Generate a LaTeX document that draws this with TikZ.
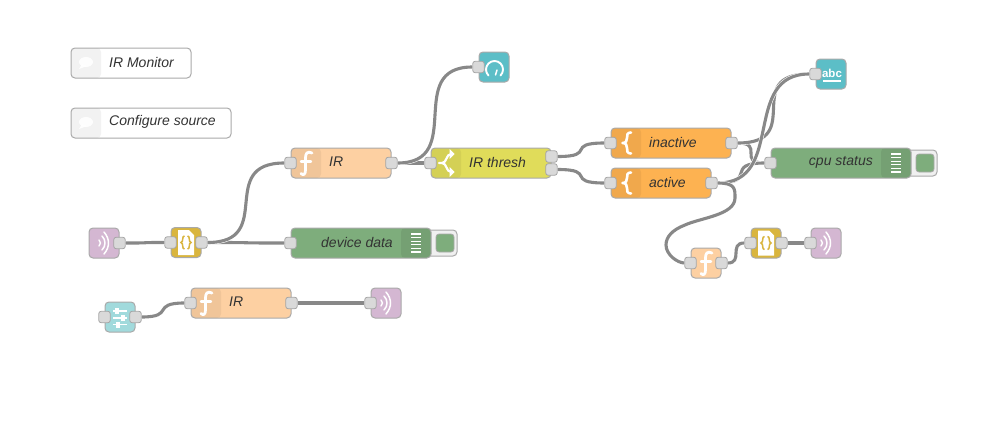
\documentclass[tikz,border=0pt]{standalone}
\usepackage{fontspec}
\setmainfont{Liberation Sans}
\definecolor{nodeline}{HTML}{A9A9A9}
\definecolor{portfill}{HTML}{D9D9D9}
\definecolor{portline}{HTML}{A5A5A5}
\definecolor{wiregray}{HTML}{888888}
\definecolor{fncol}{HTML}{FDD0A2}
\definecolor{switchcol}{HTML}{E0DC5A}
\definecolor{groupcol}{HTML}{FDB251}
\definecolor{debugcol}{HTML}{7EAD7C}
\definecolor{mqttcol}{HTML}{D4B7D2}
\definecolor{tplcol}{HTML}{D9B53E}
\definecolor{dashcol}{HTML}{5CBEC7}
\definecolor{slidecol}{HTML}{A1DADC}
\definecolor{labelcol}{HTML}{333333}
\tikzset{
  flownode/.style={draw=nodeline, rounded corners=4pt, line width=1pt, minimum height=30pt, inner sep=0pt},
  iconbar/.style={path picture={\fill[black,opacity=0.05] (path picture bounding box.north west) rectangle ([xshift=30pt]path picture bounding box.south west);}},
  debugbar/.style={path picture={\fill[black,opacity=0.07] (path picture bounding box.north east) rectangle ([xshift=-30pt]path picture bounding box.south east);}},
  port/.style={draw=portline, fill=portfill, rounded corners=2.5pt, line width=0.8pt, minimum size=11.5pt, inner sep=0pt},
  wire/.style={draw=wiregray, line width=3.1pt, preaction={draw=white, line width=4.2pt}},
  namelabel/.style={text=labelcol, font=\fontsize{14}{16}\selectfont\itshape, inner sep=0pt},
  iconline/.style={draw=white, line width=2.2pt, line cap=round, line join=round},
  lamp/.style={draw=nodeline, fill=debugcol, rounded corners=3pt, minimum size=18pt, inner sep=0pt, line width=0.8pt},
  statusbox/.style={flownode, fill=black!6, minimum width=30pt, minimum height=26pt},
  fnicon/.pic={
    \draw[iconline, line width=2.8pt] (6,-10) .. controls (1,-12.5) and (-0.5,-9) .. (-0.5,-5) -- (-0.5,7) .. controls (-0.5,12) and (-3,12.5) .. (-5,10.5);
    \draw[iconline, line width=2.4pt] (-5,-1.5) -- (5,-1.5);
  },
  braceicon/.pic={
    \draw[iconline, line width=2.6pt] (5,-10.5) .. controls (1,-10.5) and (1,-8) .. (1,-5) .. controls (1,-2) and (0,0) .. (-3.5,0) .. controls (0,0) and (1,2) .. (1,5) .. controls (1,8) and (1,10.5) .. (5,10.5);
  },
  waveicon/.pic={
    \draw[iconline, line width=1.5pt] (-5,-3) .. controls (-3,-1) and (-3,1) .. (-5,3);
    \draw[iconline, line width=1.5pt] (-2,-7) .. controls (2,-3) and (2,3) .. (-2,7);
    \draw[iconline, line width=1.5pt] (0,-11) .. controls (6,-4) and (6,4) .. (0,11);
  },
  tplicon/.pic={
    \fill[white] (-8,-12.5) -- (3,-12.5) -- (8,-7.5) -- (8,12.5) -- (-8,12.5) -- cycle;
    \draw[tplcol, line width=1.5pt] (-1.5,-6.5) .. controls (-4.5,-6.5) and (-2,-1) .. (-5,0) .. controls (-2,1) and (-4.5,6.5) .. (-1.5,6.5);
    \draw[tplcol, line width=1.5pt] (1.5,-6.5) .. controls (4.5,-6.5) and (2,-1) .. (5,0) .. controls (2,1) and (4.5,6.5) .. (1.5,6.5);
  },
  bubbleicon/.pic={
    \fill[white,opacity=0.85] (0,0) ellipse (7 and 5);
    \fill[white,opacity=0.85] (-4,2) -- (-7,7) -- (1,4) -- cycle;
  },
  listicon/.pic={
    \foreach \y in {-9,-5.4,-1.8,1.8,5.4,9} \draw[white, line width=1.2pt] (-5,\y) -- (5,\y);
  },
}
\begin{document}
\begin{tikzpicture}[x=1pt,y=-1pt]
  \useasboundingbox (0,0) rectangle (1007,447);

  % comments
  \node[flownode, fill=white, iconbar, minimum width=120pt] (monitor) at (131,63) {};
  \node[flownode, fill=white, iconbar, minimum width=160pt] (config) at (151,123) {};
  \pic at (86,62) {bubbleicon};
  \pic at (86,122) {bubbleicon};
  \node[namelabel, right] (monitortxt) at (109,62) {IR Monitor};
  \node[namelabel, right] (configtxt) at (109,122) {Configure source};

  % status boxes behind the debug nodes
  \node[statusbox] (cpubox) at (922,163) {};
  \node[lamp] (cpulamp) at (925,163) {};
  \node[statusbox] (devbox) at (442,243) {};
  \node[lamp] (devlamp) at (445,243) {};

  % main flow
  \node[flownode, fill=mqttcol, minimum width=30pt] (mqttin) at (104,243) {};
  \node[flownode, fill=tplcol, minimum width=30pt] (parse) at (186,242.5) {};
  \node[flownode, fill=fncol, iconbar, minimum width=100pt] (irfn) at (341,163) {};
  \node[flownode, fill=debugcol, debugbar, minimum width=140pt] (devdata) at (361,243) {};
  \node[flownode, fill=dashcol, minimum width=30pt] (gauge) at (494,67) {};
  \node[flownode, fill=switchcol, iconbar, minimum width=120pt] (thresh) at (491,163) {};
  \node[flownode, fill=groupcol, iconbar, minimum width=120pt] (inactive) at (671,143) {};
  \node[flownode, fill=groupcol, iconbar, minimum width=100pt] (active) at (661,183) {};
  \node[flownode, fill=dashcol, minimum width=30pt] (textui) at (831,74) {};
  \node[flownode, fill=debugcol, debugbar, minimum width=140pt] (cpustat) at (841,163) {};
  \node[flownode, fill=fncol, minimum width=30pt] (smallfn) at (706,263) {};
  \node[flownode, fill=tplcol, minimum width=30pt] (smalltpl) at (766,243) {};
  \node[flownode, fill=mqttcol, minimum width=30pt] (mqttout) at (826,243) {};
  % lower flow
  \node[flownode, fill=slidecol, minimum width=30pt] (slider) at (120,317) {};
  \node[flownode, fill=fncol, iconbar, minimum width=100pt] (cfgfn) at (241,303) {};
  \node[flownode, fill=mqttcol, minimum width=30pt] (cfgout) at (386,303) {};

  % labels
  \node[namelabel, right] (irfntxt) at (329,162) {IR};
  \node[namelabel, left] (devtxt) at (393,242) {device data};
  \node[namelabel, right] (threshtxt) at (469,162) {IR thresh};
  \node[namelabel, right] (inactivetxt) at (649,142) {inactive};
  \node[namelabel, right] (activetxt) at (649,182) {active};
  \node[namelabel, left] (cpustxt) at (873,162) {cpu status};
  \node[namelabel, right] (cfgfntxt) at (229,302) {IR};

  % icons
  \pic at (306,163) {fnicon};
  \pic at (206,303) {fnicon};
  \pic at (706,263) {fnicon};
  \pic at (626,143) {braceicon};
  \pic at (626,183) {braceicon};
  \pic at (104,243) {waveicon};
  \pic at (386,303) {waveicon};
  \pic at (826,243) {waveicon};
  \pic at (186,242.5) {tplicon};
  \pic at (766,243) {tplicon};
  \pic at (416,243) {listicon};
  \pic at (896,163) {listicon};
  \draw[iconline] (439,163) -- (442,163) .. controls (447,163) and (446,154) .. (451,154);
  \draw[iconline] (442,163) .. controls (447,163) and (446,172) .. (451,172);
  \fill[white] (449.5,149) -- (454.5,154) -- (449.5,159) -- cycle;
  \fill[white] (449.5,167) -- (454.5,172) -- (449.5,177) -- cycle;
  \draw[iconline, line width=1.9pt] (488.5,75.5) arc (135:405:8.5);
  \draw[iconline, line width=1.5pt] (497,70) -- (495.5,75);
  \node[text=white, inner sep=0pt, font=\fontsize{11.5}{12}\selectfont\bfseries] (abc) at (832,73.5) {abc};
  \draw[white, line width=1.6pt] (823,81) -- (841,81);
  \foreach \y/\k in {311/-3,318/3,324.5/-2} {
    \draw[white, line width=1.8pt] (113,\y) -- (127,\y);
    \fill[white] (120+\k-2,\y-3) rectangle (120+\k+2,\y+3);
  }

  % ports
  \node[port] (mqttinout) at (mqttin.east) {};
  \node[port] (parsein) at (parse.west) {};
  \node[port] (parseout) at (parse.east) {};
  \node[port] (irfnin) at (irfn.west) {};
  \node[port] (irfnout) at (irfn.east) {};
  \node[port] (devin) at (devdata.west) {};
  \node[port] (gaugein) at (gauge.west) {};
  \node[port] (threshin) at (thresh.west) {};
  \node[port] (threshouta) at ([yshift=6.5pt]thresh.east) {};
  \node[port] (threshoutb) at ([yshift=-6.5pt]thresh.east) {};
  \node[port] (inactivein) at (inactive.west) {};
  \node[port] (inactiveout) at (inactive.east) {};
  \node[port] (activein) at (active.west) {};
  \node[port] (activeout) at (active.east) {};
  \node[port] (textuiin) at (textui.west) {};
  \node[port] (cpuin) at (cpustat.west) {};
  \node[port] (smallfnin) at (smallfn.west) {};
  \node[port] (smallfnout) at (smallfn.east) {};
  \node[port] (smalltplin) at (smalltpl.west) {};
  \node[port] (smalltplout) at (smalltpl.east) {};
  \node[port] (mqttoutin) at (mqttout.west) {};
  \node[port] (sliderin) at (slider.west) {};
  \node[port] (sliderout) at (slider.east) {};
  \node[port] (cfgfnin) at (cfgfn.west) {};
  \node[port] (cfgfnout) at (cfgfn.east) {};
  \node[port] (cfgoutin) at (cfgout.west) {};

  % wires
  \draw[wire] (mqttinout) .. controls +(39,0) and +(-39,0) .. (parsein);
  \draw[wire] (parseout) .. controls +(67,0) and +(-67,0) .. (devin);
  \draw[wire] (parseout) .. controls +(75,0) and +(-75,0) .. (irfnin);
  \draw[wire] (irfnout) .. controls +(30,0) and +(-30,0) .. (threshin);
  \draw[wire] (irfnout) .. controls +(75,0) and +(-75,0) .. (gaugein);
  \draw[wire] (threshouta) .. controls +(46,0) and +(-46,0) .. (inactivein);
  \draw[wire] (threshoutb) .. controls +(46,0) and +(-46,0) .. (activein);
  \draw[wire] (inactiveout) .. controls +(33,0) and +(-33,0) .. (cpuin);
  \draw[wire] (activeout) .. controls +(47,0) and +(-47,0) .. (cpuin);
  \draw[wire] (inactiveout) .. controls +(75,0) and +(-75,0) .. (textuiin);
  \draw[wire] (activeout) .. controls +(75,0) and +(-75,0) .. (textuiin);
  \draw[wire] (activeout) .. controls +(24,0) and (735,189) .. (735,198) .. controls (735,215) and (700,218) .. (685,225) .. controls (672,230) and (666,237) .. (666,245) .. controls (666,255) and (678,263) .. (smallfnin);
  \draw[wire] (smallfnout) .. controls +(22,0) and +(-22,0) .. (smalltplin);
  \draw[wire] (smalltplout) .. controls +(20,0) and +(-20,0) .. (mqttoutin);
  \draw[wire] (sliderout) .. controls +(40,0) and +(-40,0) .. (cfgfnin);
  \draw[wire] (cfgfnout) .. controls +(60,0) and +(-60,0) .. (cfgoutin);
\end{tikzpicture}
\end{document}
